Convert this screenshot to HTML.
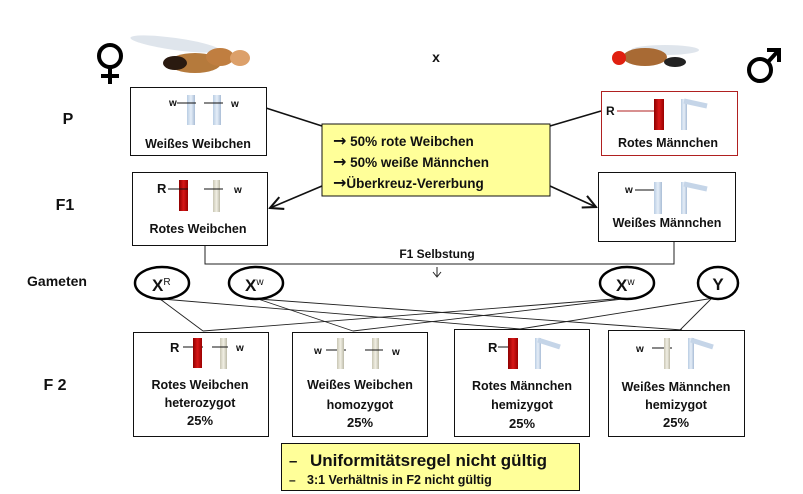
<!DOCTYPE html>
<html><head><meta charset="utf-8"><style>
html,body{margin:0;padding:0;background:#fff}
svg{display:block}
text{font-family:"Liberation Sans",Arial,sans-serif;font-weight:bold;fill:#111}
</style></head><body>
<svg width="803" height="494" viewBox="0 0 803 494" xmlns="http://www.w3.org/2000/svg">
<defs>
<linearGradient id="blue" x1="0" x2="1"><stop offset="0" stop-color="#b9cde3"/><stop offset="0.5" stop-color="#e6eef8"/><stop offset="1" stop-color="#a9bdd6"/></linearGradient>
<linearGradient id="pale" x1="0" x2="1"><stop offset="0" stop-color="#c9c6b4"/><stop offset="0.5" stop-color="#f1efe4"/><stop offset="1" stop-color="#bdbaa8"/></linearGradient>
<linearGradient id="red" x1="0" x2="1"><stop offset="0" stop-color="#8e0000"/><stop offset="0.5" stop-color="#d81818"/><stop offset="1" stop-color="#9a0000"/></linearGradient>
<marker id="arr" markerWidth="10" markerHeight="10" refX="9" refY="5" orient="auto"><path d="M1,1 L9,5 L1,9" fill="none" stroke="#111" stroke-width="1.3"/></marker>
</defs>

<g stroke="#000" stroke-width="4" fill="none">
<circle cx="110" cy="56" r="11"/><line x1="110" y1="67" x2="110" y2="84"/><line x1="101" y1="76" x2="119" y2="76"/></g>
<g stroke="#000" stroke-width="4" fill="none">
<circle cx="760" cy="70" r="11"/><line x1="768" y1="62" x2="778" y2="51"/><path d="M767,50 L779,50 L779,62"/></g>
<text x="436" y="62" font-size="14" text-anchor="middle">x</text>

<g>
<ellipse cx="175" cy="44" rx="45" ry="6" fill="#dfe5ec" transform="rotate(8 175 44)"/>
<ellipse cx="195" cy="63" rx="26" ry="10" fill="#b57a3c"/>
<ellipse cx="175" cy="63" rx="12" ry="7" fill="#2a1a10"/>
<ellipse cx="220" cy="57" rx="14" ry="9" fill="#c07e40"/>
<ellipse cx="240" cy="58" rx="10" ry="8" fill="#dca06a"/>
</g>
<g>
<ellipse cx="665" cy="50" rx="34" ry="5" fill="#dfe5ec"/>
<ellipse cx="645" cy="57" rx="22" ry="9" fill="#a86a34"/>
<ellipse cx="675" cy="62" rx="11" ry="5" fill="#222"/>
<circle cx="619" cy="58" r="7" fill="#e02010"/>
</g>

<text x="68" y="124" font-size="16" text-anchor="middle">P</text>
<text x="65" y="210" font-size="16" text-anchor="middle">F1</text>
<text x="57" y="286" font-size="14" text-anchor="middle">Gameten</text>
<text x="55" y="390" font-size="16" text-anchor="middle">F 2</text>

<g stroke="#111" stroke-width="1.6" fill="none">
<line x1="266" y1="108" x2="322" y2="126"/>
<line x1="601" y1="111" x2="550" y2="126"/>
<line x1="322" y1="186" x2="270" y2="208" marker-end="url(#arr)"/>
<line x1="550" y1="186" x2="596" y2="207" marker-end="url(#arr)"/>
</g>
<g stroke="#222" stroke-width="1" fill="none">
<path d="M205,245 V264 H674 V241"/>
<line x1="437" y1="267" x2="437" y2="276"/><path d="M433,272 L437,277 L441,272"/>
</g>
<text x="437" y="258" font-size="12" text-anchor="middle">F1 Selbstung</text>

<rect x="322" y="124" width="228" height="72" fill="#ffff99" stroke="#111" stroke-width="1"/>
<text x="333" y="146" font-size="13.5"><tspan font-size="16" font-family="DejaVu Sans">→</tspan> 50% rote Weibchen</text>
<text x="333" y="167" font-size="13.5"><tspan font-size="16" font-family="DejaVu Sans">→</tspan> 50% weiße Männchen</text>
<text x="333" y="188" font-size="13.5"><tspan font-size="16" font-family="DejaVu Sans">→</tspan>Überkreuz-Vererbung</text>

<g>
<rect x="130.5" y="87.5" width="136" height="68" fill="#fff" stroke="#111"/>
<rect x="187" y="95" width="8" height="30" fill="url(#blue)"/><rect x="213" y="95" width="8" height="30" fill="url(#blue)"/>
<line x1="177" y1="103" x2="196" y2="103" stroke="#111"/><line x1="204" y1="103" x2="223" y2="103" stroke="#111"/>
<text x="169" y="106" font-size="10">w</text><text x="231" y="107" font-size="10">w</text>
<text x="198" y="148" font-size="12.5" text-anchor="middle">Weißes Weibchen</text></g>

<g>
<rect x="601.5" y="91.5" width="136" height="64" fill="#fff" stroke="#b02020"/>
<text x="606" y="115" font-size="12">R</text><line x1="617" y1="111" x2="655" y2="111" stroke="#b02020"/>
<rect x="654" y="99" width="10" height="31" fill="url(#red)"/>
<rect x="681" y="99" width="6" height="31" fill="url(#blue)"/><path d="M684,101 L707,106" stroke="#c5d5e8" stroke-width="5"/>
<text x="668" y="147" font-size="12.5" text-anchor="middle">Rotes Männchen</text></g>

<g>
<rect x="132.5" y="172.5" width="135" height="73" fill="#fff" stroke="#111"/>
<text x="157" y="193" font-size="13" font-weight="normal">R</text>
<rect x="179" y="180" width="9" height="31" fill="url(#red)"/>
<line x1="168" y1="189" x2="188" y2="189" stroke="#111"/>
<rect x="213" y="180" width="7" height="32" fill="url(#pale)"/>
<line x1="204" y1="189" x2="223" y2="189" stroke="#111"/>
<text x="234" y="193" font-size="10">w</text>
<text x="198" y="233" font-size="12.5" text-anchor="middle">Rotes Weibchen</text></g>

<g>
<rect x="598.5" y="172.5" width="137" height="69" fill="#fff" stroke="#111"/>
<text x="625" y="193" font-size="10">w</text><line x1="635" y1="190" x2="656" y2="190" stroke="#111"/>
<rect x="654" y="182" width="8" height="32" fill="url(#blue)"/>
<rect x="681" y="182" width="6" height="32" fill="url(#blue)"/><path d="M684,184 L707,189" stroke="#c5d5e8" stroke-width="5"/>
<text x="667" y="227" font-size="12.5" text-anchor="middle">Weißes Männchen</text></g>

<g stroke="#222" stroke-width="0.9">
<line x1="160" y1="299" x2="203" y2="331"/>
<line x1="162" y1="299" x2="520" y2="329"/>
<line x1="258" y1="299" x2="353" y2="331"/>
<line x1="258" y1="299" x2="682" y2="330"/>
<line x1="627" y1="298" x2="203" y2="331"/>
<line x1="631" y1="298" x2="353" y2="331"/>
<line x1="714" y1="298" x2="520" y2="329"/>
<line x1="712" y1="298" x2="680" y2="330"/>
</g>

<g><ellipse cx="162" cy="283" rx="27" ry="16" fill="#fff" stroke="#000" stroke-width="2.5"/><text x="152" y="291" font-size="17">X<tspan font-size="10" dy="-6" font-weight="normal">R</tspan></text></g>
<g><ellipse cx="256" cy="283" rx="27" ry="16" fill="#fff" stroke="#000" stroke-width="2.5"/><text x="245" y="291" font-size="17">X<tspan font-size="10" dy="-6" font-weight="normal">w</tspan></text></g>
<g><ellipse cx="627" cy="283" rx="27" ry="16" fill="#fff" stroke="#000" stroke-width="2.5"/><text x="616" y="291" font-size="17">X<tspan font-size="10" dy="-6" font-weight="normal">w</tspan></text></g>
<g><ellipse cx="718" cy="283" rx="20" ry="16" fill="#fff" stroke="#000" stroke-width="2.5"/><text x="718" y="290" font-size="17" text-anchor="middle">Y</text></g>

<g>
<rect x="133.5" y="332.5" width="135" height="104" fill="#fff" stroke="#111"/>
<text x="170" y="352" font-size="13" font-weight="normal">R</text><line x1="183" y1="347" x2="203" y2="347" stroke="#111"/>
<rect x="193" y="338" width="9" height="30" fill="url(#red)"/>
<rect x="220" y="338" width="7" height="31" fill="url(#pale)"/><line x1="212" y1="347" x2="228" y2="347" stroke="#111"/>
<text x="236" y="351" font-size="10">w</text>
<text x="200" y="389" font-size="12.5" text-anchor="middle">Rotes Weibchen</text>
<text x="200" y="407" font-size="12.5" text-anchor="middle">heterozygot</text>
<text x="200" y="425" font-size="13" text-anchor="middle">25%</text></g>

<g>
<rect x="292.5" y="332.5" width="135" height="104" fill="#fff" stroke="#111"/>
<text x="314" y="354" font-size="10">w</text><line x1="326" y1="350" x2="346" y2="350" stroke="#111"/>
<rect x="337" y="338" width="7" height="31" fill="url(#pale)"/>
<rect x="372" y="338" width="7" height="31" fill="url(#pale)"/><line x1="365" y1="350" x2="383" y2="350" stroke="#111"/>
<text x="392" y="355" font-size="10">w</text>
<text x="360" y="389" font-size="12.5" text-anchor="middle">Weißes Weibchen</text>
<text x="360" y="409" font-size="12.5" text-anchor="middle">homozygot</text>
<text x="360" y="427" font-size="13" text-anchor="middle">25%</text></g>

<g>
<rect x="454.5" y="329.5" width="135" height="107" fill="#fff" stroke="#111"/>
<text x="488" y="352" font-size="13" font-weight="normal">R</text><line x1="498" y1="347" x2="518" y2="347" stroke="#111"/>
<rect x="508" y="338" width="10" height="31" fill="url(#red)"/>
<rect x="535" y="338" width="6" height="31" fill="url(#blue)"/><path d="M538,340 L560,347" stroke="#c5d5e8" stroke-width="5"/>
<text x="522" y="390" font-size="12.5" text-anchor="middle">Rotes Männchen</text>
<text x="522" y="409" font-size="12.5" text-anchor="middle">hemizygot</text>
<text x="522" y="428" font-size="13" text-anchor="middle">25%</text></g>

<g>
<rect x="608.5" y="330.5" width="136" height="106" fill="#fff" stroke="#111"/>
<text x="636" y="352" font-size="10">w</text><line x1="652" y1="348" x2="672" y2="348" stroke="#111"/>
<rect x="664" y="338" width="6" height="31" fill="url(#pale)"/>
<rect x="688" y="338" width="6" height="31" fill="url(#blue)"/><path d="M691,340 L713,347" stroke="#c5d5e8" stroke-width="5"/>
<text x="676" y="391" font-size="12.5" text-anchor="middle">Weißes Männchen</text>
<text x="676" y="409" font-size="12.5" text-anchor="middle">hemizygot</text>
<text x="676" y="427" font-size="13" text-anchor="middle">25%</text></g>

<g>
<rect x="281.5" y="443.5" width="298" height="47" fill="#ffff99" stroke="#111"/>
<text x="289" y="466" font-size="15" font-weight="normal">–</text>
<text x="310" y="466" font-size="17">Uniformitätsregel nicht gültig</text>
<text x="289" y="484" font-size="12" font-weight="normal">–</text>
<text x="307" y="484" font-size="12.5">3:1 Verhältnis in F2 nicht gültig</text>
</g>
</svg>
</body></html>
